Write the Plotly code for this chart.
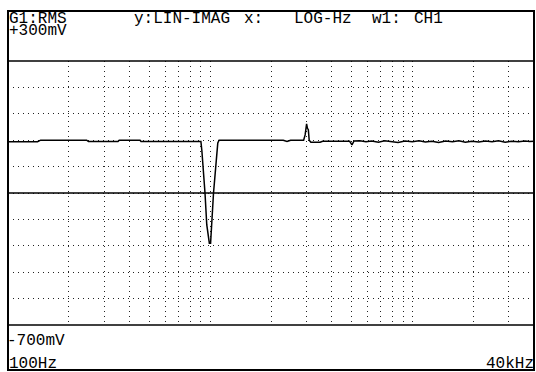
import math
import plotly.graph_objects as go

# ---- data ----
freq_hz = [100, 140, 145, 245, 250, 350, 355, 450, 455, 560, 565, 900,
           910, 924, 943, 962, 991, 1005, 1020, 1039, 1066, 1091, 1107,
           1500, 2000, 2300, 2400, 2500, 2700, 2900, 2950, 2980, 3000, 3030, 3060, 3090,
           3150, 3500, 3600, 4200, 4900, 5030, 5150,
           5500, 5900, 6300, 6800, 7300, 7900, 8500, 9200, 10000, 10800, 11600,
           12500, 13500, 14600, 15800, 17000, 18300, 19700, 21300, 23000, 24800,
           26700, 28800, 31000, 33500, 36100, 38000, 40000]
value_v = [-0.006, -0.006, 0.0, 0.0, -0.005, -0.005, 0.0, 0.0, -0.005, -0.005, -0.004, -0.005,
           -0.04, -0.10, -0.20, -0.32, -0.39, -0.39, -0.30, -0.20, -0.10, -0.01, 0.0,
           0.0, 0.0, 0.0, -0.005, 0.0, 0.0, 0.0, 0.02, 0.04, 0.062, 0.045, 0.04, 0.0,
           -0.008, -0.008, -0.004, -0.004, -0.004, -0.018, -0.003,
           -0.002, -0.006, -0.003, -0.008, -0.002, -0.005, -0.009, -0.003, -0.006, -0.002, -0.007,
           -0.004, -0.009, -0.003, -0.006, -0.002, -0.008, -0.004, -0.007, -0.003, -0.006,
           -0.002, -0.008, -0.004, -0.006, -0.003, -0.005, -0.004]

x_grid_hz = [200, 300, 400, 500, 600, 700, 800, 900, 1000,
             2000, 3000, 4000, 5000, 6000, 7000, 8000, 9000, 10000, 20000, 30000]
y_grid_v = [-0.6, -0.5, -0.4, -0.3, -0.2, -0.1, 0.0, 0.1, 0.2]

x_min_hz, x_max_hz = 100, 40000
y_min_v, y_max_v = -0.7, 0.3
center_v = -0.2

header_left = "G1:RMS"
header_parts = [("y:LIN-IMAG", 133), ("x:", 243), ("LOG-Hz", 293), ("w1:", 371), ("CH1", 413)]
top_label = "+300mV"
bottom_label = "-700mV"
x_start_label = "100Hz"
x_end_label = "40kHz"

# ---- layout geometry (pixels) ----
W, H = 536, 372
L, R, T, B = 8, 534, 11, 370
PT, PB = 61, 325

def px(x):
    return x / W

def py(y):
    return 1 - y / H

FONT = "Liberation Mono"

fig = go.Figure()
fig.add_trace(go.Scatter(x=freq_hz, y=value_v, mode="lines",
                         line=dict(color="black", width=1.5), hoverinfo="skip",
                         showlegend=False))

grid_dash = "1px,4px"
fig.update_layout(
    width=W, height=H, margin=dict(l=0, r=0, t=0, b=0),
    paper_bgcolor="white", plot_bgcolor="white",
    xaxis=dict(type="log", range=[math.log10(x_min_hz), math.log10(x_max_hz)],
               domain=[px(L), px(R)], tickvals=x_grid_hz, showticklabels=False,
               ticks="", showgrid=True, gridcolor="#222", gridwidth=1, griddash=grid_dash,
               zeroline=False, showline=False),
    yaxis=dict(range=[y_min_v, y_max_v], domain=[py(PB), py(PT)], tickvals=y_grid_v,
               showticklabels=False, ticks="", showgrid=True, gridcolor="#222", gridwidth=1,
               griddash=grid_dash, zeroline=False, showline=False),
)

shapes = [
    dict(type="rect", xref="paper", yref="paper", x0=px(L), x1=px(R), y0=py(B), y1=py(T),
         line=dict(color="black", width=2), fillcolor="rgba(0,0,0,0)", layer="above"),
    dict(type="line", xref="paper", yref="paper", x0=px(L), x1=px(R), y0=py(PT), y1=py(PT),
         line=dict(color="black", width=1.5)),
    dict(type="line", xref="paper", yref="paper", x0=px(L), x1=px(R), y0=py(PB), y1=py(PB),
         line=dict(color="black", width=1.5)),
    dict(type="line", xref="paper", yref="y", x0=px(L), x1=px(R), y0=center_v, y1=center_v,
         line=dict(color="black", width=1.5)),
]
fig.update_layout(shapes=shapes)

def label(text, x, y, anchor="left"):
    fig.add_annotation(text=text, xref="paper", yref="paper", x=px(x), y=py(y),
                       xanchor=anchor, yanchor="middle", showarrow=False, borderpad=0,
                       font=dict(family=FONT, size=16, color="black"))

label(header_left, 8, 19)
for txt, xpos in header_parts:
    label(txt, xpos, 19)
label(top_label, 8, 31)
label(bottom_label, 6, 341)
label(x_start_label, 8, 364)
label(x_end_label, 535, 364, anchor="right")

fig.write_html("out.html", config={"displayModeBar": False},
               post_script="document.body.style.margin='0';")
